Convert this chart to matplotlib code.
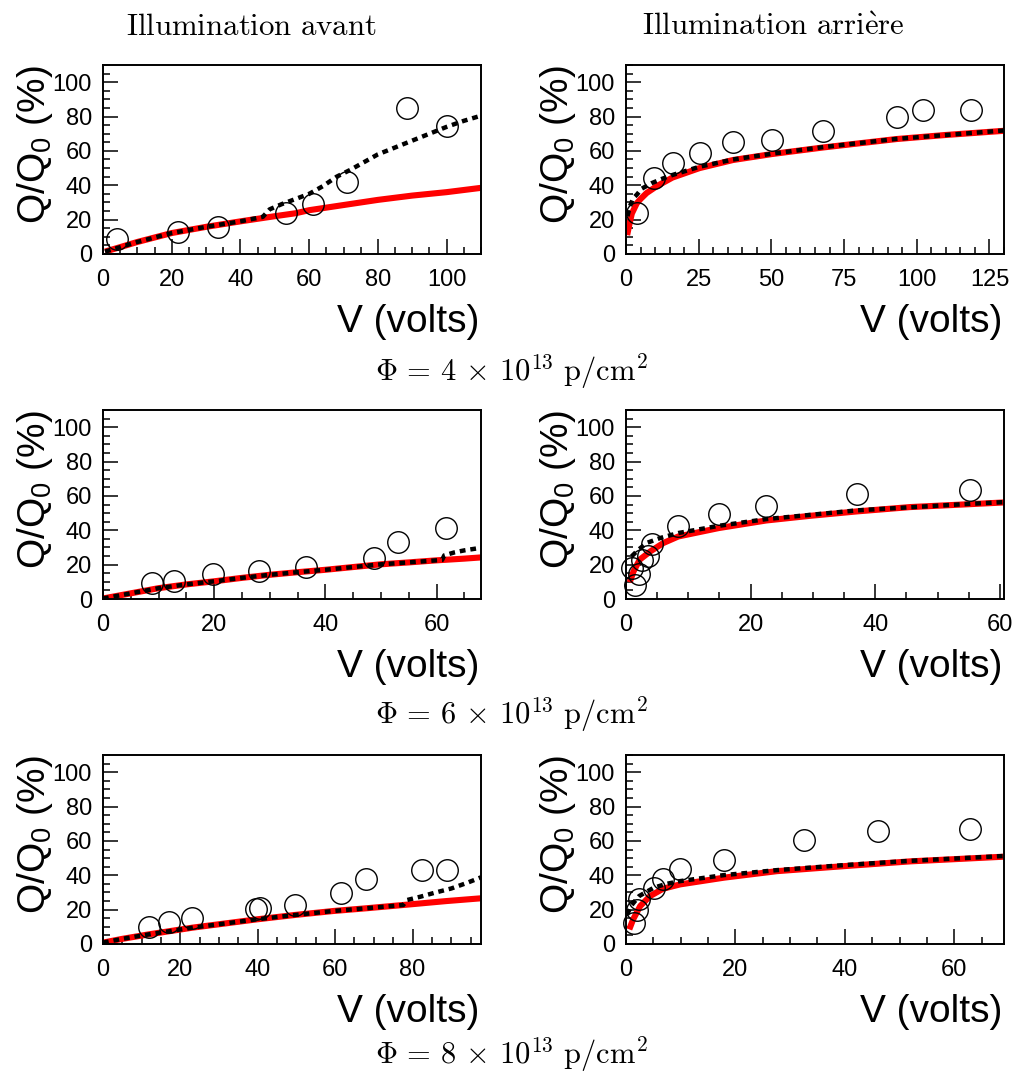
import matplotlib
matplotlib.use('Agg')
import matplotlib.pyplot as plt
from matplotlib.ticker import MultipleLocator

plt.rcParams['font.family'] = ['Liberation Sans', 'DejaVu Sans']
plt.rcParams['mathtext.fontset'] = 'custom'
plt.rcParams['mathtext.rm'] = 'Liberation Sans'
plt.rcParams['mathtext.it'] = 'Liberation Sans:italic'
plt.rcParams['mathtext.bf'] = 'Liberation Sans:bold'

# ---------------- data ----------------
col_titles = ['Illumination avant', 'Illumination arri\\grave{e}re']
fluences = ['4', '6', '8']
y_label = 'Q/Q$_{0}$ (%)'
x_label = 'V (volts)'

# Row 1, front illumination
p1_pts_x = [4.1, 21.7, 33.6, 53.2, 61.0, 71.1, 88.6, 100.1]
p1_pts_y = [8.5, 13.0, 15.5, 23.6, 29.1, 41.9, 84.7, 74.4]
p1_red_x = [0.6, 5, 10, 20, 30, 40, 50, 56, 60, 70, 80, 90, 100, 110]
p1_red_y = [1.4, 4.0, 7.0, 12.2, 15.8, 19.0, 22.0, 23.7, 25.5, 28.5, 31.5, 34.0, 36.0, 38.5]
p1_dot_x = [0.6, 5, 10, 20, 30, 40, 46.5, 48.5, 52, 56, 60, 64, 68, 72, 76, 80, 85, 90, 95, 100, 105, 110]
p1_dot_y = [1.4, 4.0, 7.0, 12.2, 15.8, 19.0, 21.6, 26.0, 29.0, 32.0, 35.0, 39.5, 45.0, 49.0, 53.5, 58.0, 62.0, 66.0, 70.0, 74.0, 77.5, 80.5]

# Row 1, back illumination
p2_pts_x = [3.7, 9.7, 16.1, 25.3, 36.8, 50.3, 67.8, 93.1, 102.0, 118.6]
p2_pts_y = [23.6, 44.0, 53.1, 58.5, 65.3, 66.3, 71.7, 79.8, 84.1, 84.1]
p2_red_x = [0.4, 1.0, 2.0, 3.7, 5.0, 7.1, 10.6, 16.0, 25.3, 36.8, 50.3, 67.8, 93.0, 109.4, 130.0]
p2_red_y = [11.0, 16.0, 23.5, 29.5, 32.0, 35.5, 39.5, 44.5, 50.0, 54.7, 58.2, 62.0, 66.9, 69.2, 71.7]
p2_dot_x = [0.5, 1.4, 2.5, 3.7, 5.4, 8.8, 12.0, 16.0, 25.3, 36.8, 50.3, 67.8, 93.0, 130.0]
p2_dot_y = [22.0, 28.0, 32.5, 34.5, 38.0, 41.2, 43.5, 46.0, 50.8, 55.0, 58.4, 62.2, 67.0, 71.9]

# Row 2, front illumination
p3_pts_x = [8.8, 12.8, 19.8, 28.0, 36.6, 48.8, 53.1, 61.7]
p3_pts_y = [9.3, 10.7, 14.3, 16.1, 18.4, 23.6, 32.9, 41.5]
p3_red_x = [0, 5, 10, 15, 20, 25, 30, 35, 40, 45, 50, 55, 60, 65, 68]
p3_red_y = [0.3, 3.3, 6.3, 8.5, 10.3, 12.3, 14.1, 15.6, 17.0, 18.6, 20.2, 21.3, 22.5, 23.5, 24.2]
p3_dot_x = [0, 5, 10, 15, 20, 25, 30, 35, 40, 45, 50, 55, 60, 61.0, 61.4, 63.2, 65.0, 68.0]
p3_dot_y = [0.3, 3.3, 6.3, 8.5, 10.3, 12.3, 14.1, 15.6, 17.0, 18.6, 20.2, 21.3, 22.5, 22.7, 25.4, 27.1, 28.3, 29.8]

# Row 2, back illumination
p4_pts_x = [1.5, 1.0, 2.1, 2.5, 3.6, 4.1, 8.4, 14.9, 22.5, 37.1, 55.2]
p4_pts_y = [7.9, 18.0, 14.7, 22.5, 25.2, 32.0, 42.6, 49.6, 54.3, 61.2, 63.6]
p4_red_x = [0.6, 1.2, 2.2, 3.9, 6.0, 8.4, 14.9, 22.5, 29.5, 37.1, 45.6, 55.2, 60.7]
p4_red_y = [9.7, 16.0, 22.9, 27.7, 32.6, 36.4, 41.3, 45.7, 48.4, 51.0, 53.5, 55.2, 56.2]
p4_dot_x = [0.9, 2.0, 3.3, 5.5, 8.4, 14.9, 22.5, 37.1, 55.2, 60.7]
p4_dot_y = [24.8, 28.7, 32.6, 35.5, 38.4, 42.6, 46.5, 51.6, 55.4, 56.4]

# Row 3, front illumination
p5_pts_x = [11.8, 17.1, 23.1, 39.6, 40.5, 49.6, 61.5, 68.1, 82.4, 88.9]
p5_pts_y = [9.9, 13.0, 14.9, 20.2, 20.9, 22.9, 29.8, 38.0, 42.8, 43.0]
p5_red_x = [0, 5, 11.8, 23.1, 30, 39.6, 49.6, 59.5, 68.1, 77.6, 88.8, 97.7]
p5_red_y = [0.8, 3.0, 5.6, 9.5, 11.5, 14.3, 16.9, 19.2, 20.8, 22.7, 25.0, 26.6]
p5_dot_x = [0, 5, 11.8, 23.1, 30, 39.6, 49.6, 59.5, 68.1, 77.6, 78.6, 82, 86, 90, 94, 97.7]
p5_dot_y = [0.8, 3.0, 5.6, 9.5, 11.5, 14.3, 16.9, 19.2, 20.8, 22.7, 25.6, 27.5, 30.0, 32.3, 35.5, 38.8]

# Row 3, back illumination
p6_pts_x = [1.5, 2.0, 2.4, 5.1, 6.7, 9.9, 17.9, 32.6, 46.1, 62.9]
p6_pts_y = [12.0, 19.6, 26.4, 32.8, 37.6, 43.4, 48.6, 60.5, 65.5, 67.2]
p6_red_x = [0.6, 1.3, 2.6, 4.4, 6.8, 9.9, 17.9, 27.6, 39.8, 52.0, 69.0]
p6_red_y = [8.5, 14.3, 22.1, 27.9, 32.2, 34.7, 38.6, 42.4, 45.3, 48.1, 50.8]
p6_dot_x = [0.2, 1.0, 2.4, 5.1, 7.4, 9.9, 17.9, 27.6, 39.8, 52.0, 69.0]
p6_dot_y = [17.2, 22.5, 27.9, 32.8, 35.0, 36.6, 40.1, 43.0, 45.9, 48.4, 51.2]

panels = [
    (p1_pts_x, p1_pts_y, p1_red_x, p1_red_y, p1_dot_x, p1_dot_y, 110, 20),
    (p2_pts_x, p2_pts_y, p2_red_x, p2_red_y, p2_dot_x, p2_dot_y, 130, 25),
    (p3_pts_x, p3_pts_y, p3_red_x, p3_red_y, p3_dot_x, p3_dot_y, 68, 20),
    (p4_pts_x, p4_pts_y, p4_red_x, p4_red_y, p4_dot_x, p4_dot_y, 60.65, 20),
    (p5_pts_x, p5_pts_y, p5_red_x, p5_red_y, p5_dot_x, p5_dot_y, 97.7, 20),
    (p6_pts_x, p6_pts_y, p6_red_x, p6_red_y, p6_dot_x, p6_dot_y, 69.1, 20),
]

# ---------------- figure ----------------
W, H = 1016, 1080
fig = plt.figure(figsize=(W / 100, H / 100), dpi=100)

lefts = [103, 626]
tops = [65, 410, 755]
aw, ah = 378, 189

for i, (px, py, rx, ry, dx, dy, xmax, xmaj) in enumerate(panels):
    row, col = divmod(i, 2)
    ax = fig.add_axes([lefts[col] / W, 1 - (tops[row] + ah) / H, aw / W, ah / H])
    ax.plot(rx, ry, color='#ff0000', lw=4.4, solid_capstyle='butt', zorder=2)
    ax.plot(dx, dy, color='black', lw=3.2, linestyle=(0, (1.3, 1.1)),
            dash_capstyle='butt', zorder=3)
    ax.plot(px, py, 'o', ms=15.5, mfc='none', mec='black', mew=1.0, zorder=4,
            clip_on=False)
    ax.set_xlim(0, xmax)
    ax.set_ylim(0, 110)
    ax.xaxis.set_major_locator(MultipleLocator(xmaj))
    ax.xaxis.set_minor_locator(MultipleLocator(5))
    ax.yaxis.set_major_locator(MultipleLocator(20))
    ax.yaxis.set_minor_locator(MultipleLocator(5))
    ax.tick_params(which='both', direction='in', top=False, right=False, width=1.1,
                   labelsize=17)
    ax.tick_params(which='major', length=10.8)
    ax.tick_params(which='minor', length=5.0)
    ax.tick_params(axis='x', which='major', pad=11.0)
    ax.tick_params(axis='y', which='major', pad=8.0)
    for sp in ax.spines.values():
        sp.set_linewidth(1.4)
    ax.text(-0.18, 1.0, y_label, transform=ax.transAxes, rotation=90,
            ha='center', va='top', fontsize=28)
    ax.text(0.995, -78 / ah, x_label, transform=ax.transAxes,
            ha='right', va='baseline', fontsize=28)

# column titles
title_x = [250.8, 773]
for cx, t in zip(title_x, col_titles):
    fig.text(cx / W, 1 - 35 / H, r'$\mathrm{' + t.replace(' ', '\\ ') + '}$',
             ha='center', va='baseline', fontsize=22.2, math_fontfamily='cm')

# fluence labels
phi_base = [382, 725, 1065]
for yb, f in zip(phi_base, fluences):
    fig.text(511.7 / W, 1 - yb / H,
             r'$\Phi\,=\,' + f + r'\,\times\,10^{13}\ \mathrm{p/cm^{2}}$',
             ha='center', va='baseline', fontsize=22, math_fontfamily='cm')

fig.savefig('out.png', dpi=100)
